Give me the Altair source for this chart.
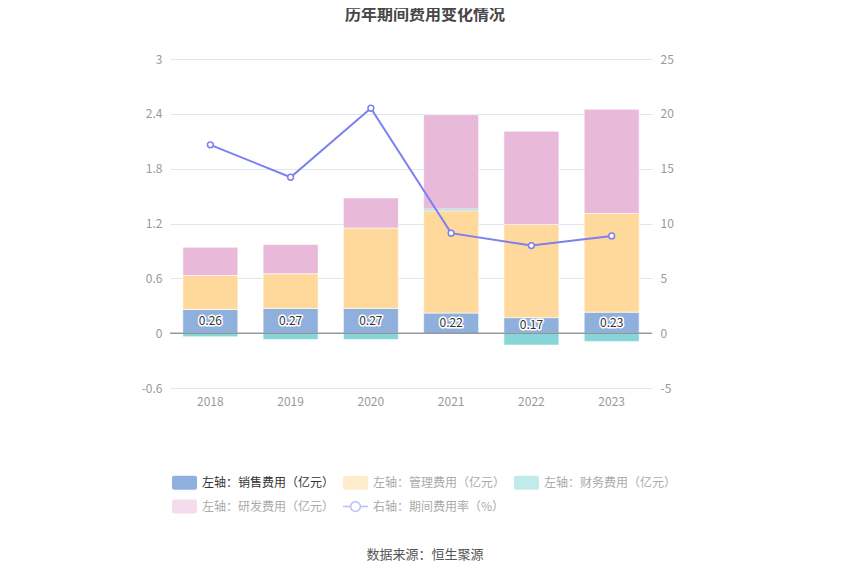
import altair as alt
import pandas as pd

years = ["2018", "2019", "2020", "2021", "2022", "2023"]
sales = [0.26, 0.27, 0.27, 0.22, 0.17, 0.23]
mgmt = [0.37, 0.38, 0.88, 1.12, 1.02, 1.08]
finance = [-0.04, -0.07, -0.07, 0.02, -0.13, -0.09]
rnd = [0.31, 0.32, 0.33, 1.03, 1.02, 1.14]
rate = [17.17, 14.22, 20.51, 9.12, 7.99, 8.87]

series_names = [
    "左轴：销售费用（亿元）",
    "左轴：管理费用（亿元）",
    "左轴：财务费用（亿元）",
    "左轴：研发费用（亿元）",
    "右轴：期间费用率（%）",
]
colors = ["#8fb0dc", "#ffd99b", "#86d5d8", "#e8b9d9", "#7c80f0"]
left_ticks = [-0.6, 0, 0.6, 1.2, 1.8, 2.4, 3]
right_ticks = [-5, 0, 5, 10, 15, 20, 25]

rows = []
for i, yr in enumerate(years):
    for k, vals in enumerate([sales, mgmt, finance, rnd]):
        rows.append({"year": yr, "series": series_names[k], "value": vals[i], "ord": k})
bars_df = pd.DataFrame(rows)
line_df = pd.DataFrame({"year": years, "rate": rate, "series": series_names[4]})
label_df = pd.DataFrame({
    "year": years,
    "mid": [v / 2 for v in sales],
    "label": [f"{v:.2f}" for v in sales],
})
zero_df = pd.DataFrame({"z": [0]})
src_df = pd.DataFrame({"t": ["数据来源：恒生聚源"]})
title_df = pd.DataFrame({"t": ["历年期间费用变化情况"]})

FONT = "Noto Sans CJK SC"

x_enc = alt.X(
    "year:N",
    sort=years,
    scale=alt.Scale(paddingInner=0.315, paddingOuter=0.16),
    axis=alt.Axis(title=None, labelAngle=0, domain=False, ticks=False,
                  labelColor="#999999", labelFontSize=12, labelPadding=8, grid=False),
)
left_scale = alt.Scale(domain=[-0.6, 3], nice=False, zero=False)
left_axis = alt.Axis(values=left_ticks, title=None, domain=False, ticks=False,
                     gridColor="#e0e6f1", labelColor="#999999", labelFontSize=12,
                     labelPadding=8, labelExpr="'' + datum.value")
right_scale = alt.Scale(domain=[-5, 25], nice=False, zero=False)
right_axis = alt.Axis(values=right_ticks, title=None, domain=False, ticks=False, grid=False,
                      orient="right", labelColor="#999999", labelFontSize=12,
                      labelPadding=8, labelExpr="'' + datum.value")

rect_path = ("M-0.84,-0.56L0.84,-0.56Q1,-0.56,1,-0.4L1,0.4Q1,0.56,0.84,0.56"
             "L-0.84,0.56Q-1,0.56,-1,0.4L-1,-0.4Q-1,-0.56,-0.84,-0.56Z")
line_path = ("M-1,-0.06L-0.45,-0.06L-0.45,0.06L-1,0.06Z"
             "M0.45,-0.06L1,-0.06L1,0.06L0.45,0.06Z"
             "M-0.45,0A0.45,0.45,0,1,1,0.45,0A0.45,0.45,0,1,1,-0.45,0Z"
             "M-0.33,0A0.33,0.33,0,1,0,0.33,0A0.33,0.33,0,1,0,-0.33,0Z")

legend = alt.Legend(
    title=None, orient="none", legendX=2, legendY=411, columns=3, direction="horizontal",
    columnPadding=8, rowPadding=4, symbolSize=625, labelOffset=5,
    labelFontSize=12, labelLimit=300, labelFont=FONT,
    symbolType=alt.ExprRef(f"datum.index === 4 ? '{line_path}' : '{rect_path}'"),
    symbolOpacity=alt.ExprRef("datum.index === 0 ? 1 : 0.5"),
    symbolStrokeWidth=0,
    labelColor=alt.ExprRef("datum.index === 0 ? '#333333' : '#aaaaaa'"),
)
color_enc = alt.Color("series:N", scale=alt.Scale(domain=series_names, range=colors), legend=legend)

bars = alt.Chart(bars_df).mark_bar(stroke="white", strokeWidth=1, strokeOpacity=0.6).encode(
    x=x_enc,
    y=alt.Y("value:Q", stack="zero", scale=left_scale, axis=left_axis),
    color=color_enc,
    order=alt.Order("ord:Q"),
)
zero_rule = alt.Chart(zero_df).mark_rule(color="#6e7079", strokeWidth=1).encode(
    y=alt.Y("z:Q", scale=left_scale, axis=left_axis),
)
labels_bg = alt.Chart(label_df).mark_text(
    fontSize=12, font=FONT, color="white", stroke="white", strokeWidth=3, strokeJoin="round"
).encode(x=x_enc, y=alt.Y("mid:Q", scale=left_scale, axis=left_axis), text="label:N")
labels_fg = alt.Chart(label_df).mark_text(fontSize=12, font=FONT, color="#333333").encode(
    x=x_enc, y=alt.Y("mid:Q", scale=left_scale, axis=left_axis), text="label:N")
source = alt.Chart(src_df).mark_text(fontSize=13, font=FONT, color="#555555").encode(
    x=alt.value(255), y=alt.value(496), text="t:N")
title = alt.Chart(title_df).mark_text(fontSize=16, font=FONT, fontWeight="bold",
                                      color="#464646", baseline="middle").encode(
    x=alt.value(255), y=alt.value(-44), text="t:N")

left = alt.layer(bars, zero_rule, labels_bg, labels_fg, source, title)

line = alt.Chart(line_df).mark_line(strokeWidth=2).encode(
    x=x_enc,
    y=alt.Y("rate:Q", scale=right_scale, axis=right_axis),
    color=color_enc,
)
points = alt.Chart(line_df).mark_point(
    filled=False, fill="white", fillOpacity=1, stroke=colors[4], strokeWidth=1.5, size=34, opacity=1
).encode(x=x_enc, y=alt.Y("rate:Q", scale=right_scale, axis=right_axis))
right = alt.layer(line, points)

chart = alt.layer(left, right).resolve_scale(y="independent").properties(
    width=482, height=329,
    autosize=alt.AutoSizeParams(type="none"),
    padding={"left": 162, "top": 51, "right": 190, "bottom": 179},
).configure(font=FONT).configure_view(stroke=None)

chart.save("out.html", embed_options={"renderer": "svg", "actions": False})
